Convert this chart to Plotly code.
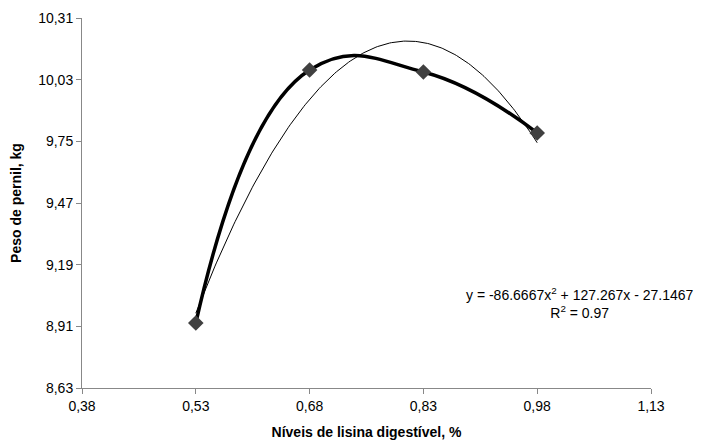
import numpy as np
import plotly.graph_objects as go

lisina = [0.53, 0.68, 0.83, 0.98]
peso = [8.925, 10.074, 10.065, 9.788]
x_ticks = [0.38, 0.53, 0.68, 0.83, 0.98, 1.13]
x_labels = ["0,38", "0,53", "0,68", "0,83", "0,98", "1,13"]
y_ticks = [8.63, 8.91, 9.19, 9.47, 9.75, 10.03, 10.31]
y_labels = ["8,63", "8,91", "9,19", "9,47", "9,75", "10,03", "10,31"]
equation = "y = -86.6667x<sup>2</sup> + 127.267x - 27.1467<br>R<sup>2</sup> = 0.97"

# quadratic trend line fitted to the observed points
coef = np.polyfit(lisina, peso, 2)
xt = np.linspace(min(lisina), max(lisina), 200)
yt = np.polyval(coef, xt)

font = "Liberation Sans, Arial, sans-serif"
fig = go.Figure()
fig.add_trace(go.Scatter(x=xt, y=yt, mode="lines",
                         line=dict(color="black", width=1), hoverinfo="skip"))
fig.add_trace(go.Scatter(x=lisina, y=peso, mode="lines+markers",
                         line=dict(color="black", width=3.5, shape="spline", smoothing=1.3),
                         marker=dict(symbol="diamond", size=12, color="#404040")))

fig.add_annotation(x=0.98, y=8.91, xref="x", yref="y", text=equation, showarrow=False,
                   align="center", font=dict(family=font, size=14, color="black"),
                   xanchor="center", yanchor="middle", xshift=43, yshift=23)

axis_common = dict(showgrid=False, zeroline=False, showline=True, linecolor="#888888",
                   linewidth=1, ticks="outside", ticklen=5, tickcolor="#888888",
                   automargin=False,
                   tickfont=dict(family=font, size=14, color="black"))
fig.update_xaxes(range=[0.38, 1.13], tickvals=x_ticks, ticktext=x_labels,
                 title=dict(text="<b>Níveis de lisina digestível, %</b>", font=dict(family=font, size=14, color="black"), standoff=14),
                 **axis_common)
fig.update_yaxes(range=[8.63, 10.31], tickvals=y_ticks, ticktext=y_labels,
                 title=dict(text="<b>Peso de pernil, kg</b>", font=dict(family=font, size=14, color="black"), standoff=14),
                 **axis_common)
fig.update_layout(width=696, height=435, showlegend=False,
                  plot_bgcolor="white", paper_bgcolor="white",
                  margin=dict(l=74, r=53, t=10, b=55))
fig.write_html("out.html")
